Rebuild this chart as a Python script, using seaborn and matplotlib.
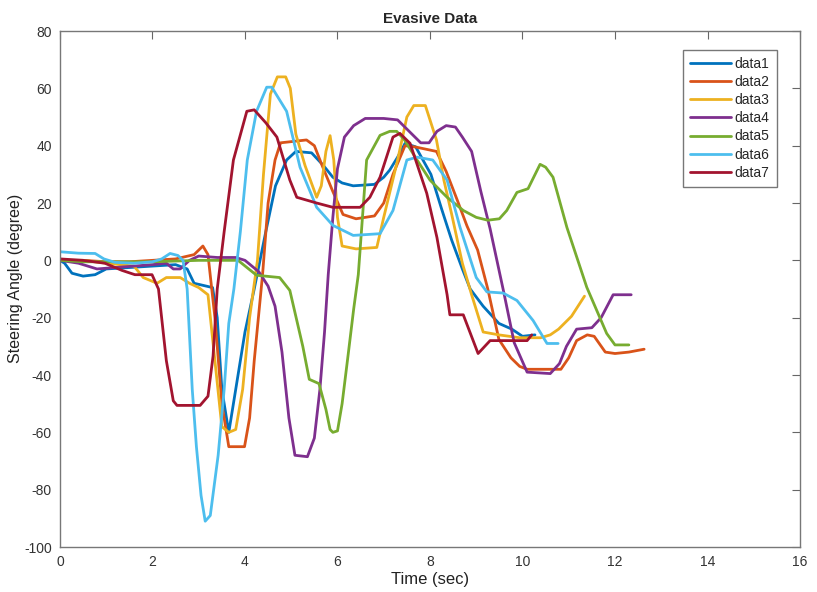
import pandas as pd
import seaborn as sns
import matplotlib.pyplot as plt

sns.set_theme(style="white")
plt.rcParams['font.family'] = ['Liberation Sans', 'DejaVu Sans']
plt.rcParams['axes.unicode_minus'] = False

names = ['data1', 'data2', 'data3', 'data4', 'data5', 'data6', 'data7']
colors = ['#0072BD', '#D95319', '#EDB120', '#7E2F8E', '#77AC30', '#4DBEEE', '#A2142F']

t1 = [0, 0.1, 0.26, 0.5, 0.76, 1.0, 1.5, 2.0, 2.5, 2.75, 2.9, 3.3, 3.4, 3.5, 3.65, 3.85, 4.0, 4.2, 4.45, 4.66, 4.9, 5.1,
      5.44, 5.7, 5.9, 6.1, 6.34, 6.8, 7.0, 7.13, 7.3, 7.46, 7.69, 8.02, 8.25, 8.47, 8.7, 8.87, 9.15, 9.49, 9.77, 10.0, 10.27]
v1 = [0, -1, -4.5, -5.5, -5, -3, -2.5, -2, -1.5, -3, -8, -9.5, -20, -45, -60, -40, -25, -10, 10, 26, 35, 38,
      37.5, 33, 29, 27, 26, 26.5, 29, 31.5, 36, 40.8, 39.6, 30, 18, 7, -3, -10, -16, -22, -24, -26.5, -26]

t2 = [0, 0.5, 1.0, 1.5, 2.0, 2.5, 2.9, 3.09, 3.2, 3.35, 3.5, 3.65, 3.99, 4.1, 4.2, 4.38, 4.5, 4.65, 4.77, 5.33, 5.5,
      5.67, 5.9, 6.12, 6.4, 6.8, 7.0, 7.2, 7.46, 7.7, 8.14, 8.35, 8.59, 8.8, 9.03, 9.25, 9.49, 9.75, 9.94, 10.1, 10.5,
      10.83, 11.0, 11.17, 11.4, 11.55, 11.79, 12.0, 12.3, 12.63]
v2 = [0, 0, -0.5, -0.5, 0, 0.5, 2, 5, 2, -20, -50, -65, -65, -55, -35, -5, 20, 35, 41, 42, 40,
      33, 24, 16, 14.5, 15.5, 20, 30, 40, 39.5, 38, 31, 21, 12, 3.6, -10, -27.6, -34, -37, -38, -38,
      -38, -34, -28, -26, -26.5, -32, -32.5, -32, -31]

t3 = [0, 0.5, 1.0, 1.6, 1.8, 2.1, 2.3, 2.6, 2.8, 3.0, 3.2, 3.35, 3.5, 3.65, 3.8, 3.95, 4.1, 4.27, 4.4, 4.55, 4.7,
      4.88, 4.98, 5.1, 5.3, 5.55, 5.65, 5.75, 5.84, 5.92, 6.0, 6.1, 6.4, 6.85, 7.0, 7.3, 7.5, 7.65, 7.9, 8.02, 8.14,
      8.3, 8.47, 8.7, 8.9, 9.15, 9.49, 9.94, 10.39, 10.6, 10.78, 11.06, 11.34]
v3 = [0, 0, -1, -2, -6, -8, -6, -6, -8, -9.5, -12, -35, -58, -60, -59, -45, -20, 0, 30, 58, 64,
      64, 60, 44, 33, 22, 26, 38, 43.5, 35, 15, 5, 4, 4.5, 15, 35, 50, 54, 54, 48, 42,
      28, 16, -1, -12, -25, -26, -27, -27, -26, -24, -19.5, -12.5]

t4 = [0, 0.4, 0.8, 1.2, 1.6, 2.0, 2.3, 2.45, 2.6, 2.8, 3.0, 3.4, 3.8, 4.0, 4.3, 4.5, 4.65, 4.8, 4.95, 5.08, 5.35,
      5.5, 5.62, 5.72, 5.8, 5.9, 6.0, 6.15, 6.35, 6.6, 7.0, 7.3, 7.55, 7.8, 7.98, 8.15, 8.35, 8.55, 8.7, 8.9, 9.1,
      9.3, 9.6, 9.82, 10.1, 10.6, 10.8, 10.95, 11.17, 11.5, 11.7, 11.96, 12.35]
v4 = [0, -1, -3, -2.5, -2, -1.5, -1, -3, -3, 0, 1.5, 1, 1, 0, -4, -9, -16, -32, -55, -68, -68.5,
      -62, -45, -25, -5, 15, 32, 43, 47, 49.5, 49.5, 49, 45, 41, 41, 45, 47, 46.5, 43, 38, 24,
      11, -11.5, -28.7, -39, -39.5, -36, -30, -24, -23.5, -20, -12, -12]

t5 = [0, 0.5, 1.0, 2.0, 3.0, 3.5, 3.85, 4.25, 4.75, 4.97, 5.25, 5.39, 5.6, 5.75, 5.84, 5.9, 6.0, 6.1, 6.23, 6.35,
      6.45, 6.63, 6.92, 7.13, 7.28, 7.45, 7.72, 8.0, 8.37, 8.72, 9.0, 9.25, 9.5, 9.66, 9.88, 10.12, 10.38, 10.5, 10.66,
      10.96, 11.39, 11.82, 12.0, 12.3]
v5 = [0, -0.5, -0.5, -0.5, 0, 0, 0, -5.2, -6, -10.5, -30, -41.5, -43, -52, -59, -60, -59.5, -50, -33, -17,
      -5, 35, 43.6, 45, 45, 42, 35, 28, 22, 17.4, 15, 14, 14.5, 17.4, 23.7, 25, 33.5, 32.5, 29,
      11.5, -9.4, -25.5, -29.5, -29.5]

t6 = [0, 0.4, 0.76, 0.95, 1.19, 1.6, 2.0, 2.2, 2.38, 2.55, 2.66, 2.75, 2.86, 2.95, 3.05, 3.14, 3.25, 3.42, 3.55,
      3.65, 3.76, 3.9, 4.05, 4.25, 4.47, 4.58, 4.9, 5.19, 5.55, 5.9, 6.34, 6.92, 7.2, 7.5, 7.72, 8.06, 8.37, 8.65,
      9.0, 9.23, 9.58, 9.88, 10.23, 10.53, 10.77]
v6 = [3, 2.5, 2.4, 0.5, -0.7, -1, -0.5, 0.5, 2.4, 1.7, 0, -10, -45, -65, -82, -91, -89, -68, -45,
      -22, -10, 10, 35, 52, 60.4, 60.4, 52, 32.5, 18.5, 12.2, 8.7, 9.3, 17.4, 35, 36, 35, 28, 11.5,
      -6, -11, -11.4, -14, -21, -29, -29]

t7 = [0, 0.5, 0.97, 1.34, 1.62, 1.99, 2.13, 2.3, 2.45, 2.53, 3.03, 3.2, 3.31, 3.4, 3.55, 3.75, 4.04, 4.2, 4.45,
      4.69, 4.97, 5.12, 5.55, 5.9, 6.49, 6.7, 6.92, 7.2, 7.35, 7.57, 7.93, 8.15, 8.37, 8.43, 8.72, 9.04, 9.3, 10.1, 10.2]
v7 = [0.5, 0, -1, -3.5, -5, -5, -10, -35, -49, -50.6, -50.6, -47.4, -33.4, -10, 10, 35, 52, 52.5, 48,
      43, 28, 22, 20, 18.5, 18.5, 22, 29, 43, 44.3, 40.8, 23.4, 8, -12, -19, -19, -32.5, -28, -28, -26]

series = [(t1, v1), (t2, v2), (t3, v3), (t4, v4), (t5, v5), (t6, v6), (t7, v7)]
frames = []
for name, (t, v) in zip(names, series):
    frames.append(pd.DataFrame({'Time': t, 'Angle': v, 'Series': name}))
df = pd.concat(frames, ignore_index=True)

fig = plt.figure(figsize=(8.17, 5.92), dpi=100)
ax = fig.add_axes([0.0734, 0.076, 0.9058, 0.8716])

sns.lineplot(data=df, x='Time', y='Angle', hue='Series', hue_order=names, palette=colors,
             sort=False, estimator=None, linewidth=2, ax=ax)

ax.set_xlim(0, 16)
ax.set_ylim(-100, 80)
ax.set_xticks(range(0, 17, 2))
ax.set_yticks(range(-100, 81, 20))
ax.tick_params(direction='in', top=True, right=True, length=6, width=0.8, labelsize=10, pad=6)
ax.tick_params(axis='both', colors='#666666', labelcolor='#333333')
for s in ax.spines.values():
    s.set_color('#777777')
    s.set_linewidth(1)

ax.set_title('Evasive Data', fontsize=11, fontweight='bold', pad=6)
ax.set_xlabel('Time (sec)', fontsize=12, labelpad=2, color='#222222')
ax.set_ylabel('Steering Angle (degree)', fontsize=11.5, color='#222222')
ax.yaxis.set_label_coords(-0.05, 0.52)

leg = ax.legend(loc='upper right', bbox_to_anchor=(0.978, 0.977), fontsize=10, frameon=True,
                fancybox=False, edgecolor='#555555', handlelength=2.9, handletextpad=0.3,
                labelspacing=0.3, borderpad=0.5, title=None)
leg.get_frame().set_linewidth(1)

fig.savefig('out.png')
